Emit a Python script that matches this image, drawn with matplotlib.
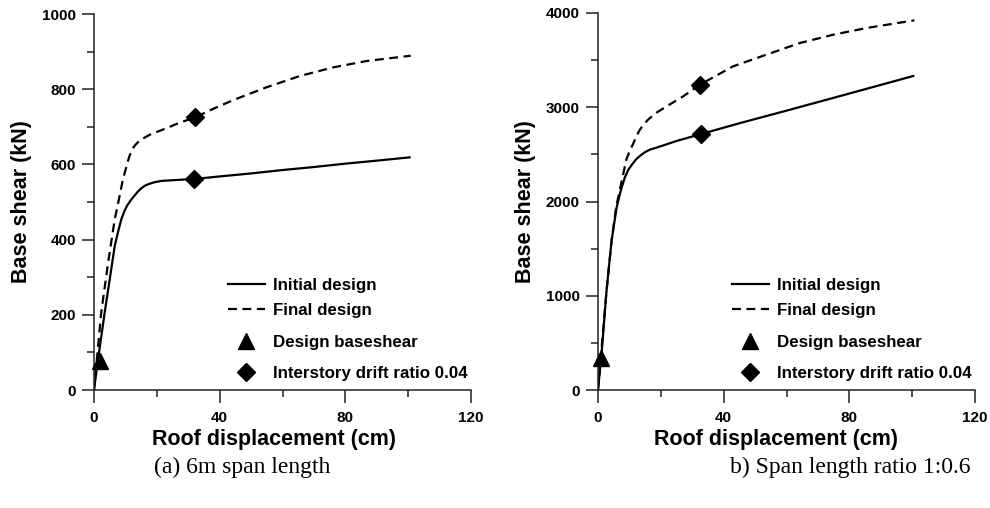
import matplotlib
matplotlib.use("Agg")
import matplotlib.pyplot as plt
from matplotlib.lines import Line2D
from matplotlib.ticker import MultipleLocator

plt.rcParams['font.family'] = ['Liberation Sans', 'DejaVu Sans']

# ---- data ----
# (a) 6m span length
a_init_x = [0, 1.3, 3.4, 5.0, 6.6, 7.7, 8.7, 9.6, 10.5, 11.9, 13.0, 14.0, 15.0, 16.1, 17.5, 19.0, 21.4, 25, 31.7, 40, 50, 60, 70, 80, 90, 100.8]
a_init_y = [0, 82, 206, 294, 383, 422, 454, 474, 490, 507, 518, 528, 536, 543, 548, 552, 556, 558, 561, 568, 576, 585, 593, 602, 610, 619]
a_final_x = [0, 2.3, 4.5, 6.6, 8.0, 9.2, 10.5, 11.2, 11.9, 12.7, 13.5, 14.5, 15.6, 18, 23, 27, 32.1, 38, 44.3, 54.9, 65.5, 76.1, 86.8, 100.8]
a_final_y = [0, 206, 339, 454, 510, 560, 600, 620, 635, 647, 655, 663, 669, 680, 696, 710, 725, 748, 771, 805, 835, 858, 875, 889]
a_base_x, a_base_y = [1.8], [77]
a_drift_x = [31.7, 32.1]
a_drift_y = [561, 725]

# (b) span length ratio 1:0.6
b_init_x = [0, 1.1, 2.7, 4.3, 5.9, 7.2, 8.5, 9.7, 11, 12.2, 13.3, 14.8, 16.5, 18.6, 25, 32.7, 45, 60, 75, 90, 100.7]
b_init_y = [0, 372, 1046, 1578, 1932, 2110, 2252, 2340, 2400, 2450, 2482, 2520, 2550, 2571, 2642, 2715, 2830, 2964, 3100, 3237, 3335]
b_final_x = [0, 2.7, 4.3, 5.8, 8.0, 9.0, 10.0, 11.1, 12.2, 13.3, 14.6, 16, 18.5, 21.8, 27.1, 32.4, 43, 53.6, 64.2, 74.9, 85.5, 100.7]
b_final_y = [0, 1046, 1578, 1947, 2287, 2442, 2530, 2606, 2690, 2760, 2820, 2870, 2940, 3009, 3115, 3239, 3434, 3558, 3681, 3770, 3841, 3922]
b_base_x, b_base_y = [1.1], [335]
b_drift_x = [32.7, 32.4]
b_drift_y = [2715, 3239]

line_labels = ["Initial design", "Final design"]
marker_labels = ["Design baseshear", "Interstory drift ratio 0.04"]
x_label = "Roof displacement (cm)"
y_label = "Base shear (kN)"
captions = ["(a) 6m span length", "b) Span length ratio 1:0.6"]

W, H = 990, 508
fig = plt.figure(figsize=(W / 100, H / 100), dpi=100)

def px_rect(x0, x1, ytop, ybot):
    return [x0 / W, 1 - ybot / H, (x1 - x0) / W, (ybot - ytop) / H]

panels = [
    dict(rect=px_rect(94, 471, 14, 390), ix=a_init_x, iy=a_init_y, fx=a_final_x, fy=a_final_y,
         bx=a_base_x, by=a_base_y, dx=a_drift_x, dy=a_drift_y, ymax=1000, ymaj=200, ymin=100,
         ylab_x=22, xlab_x=274, cap_x=242),
    dict(rect=px_rect(598, 975, 13, 390), ix=b_init_x, iy=b_init_y, fx=b_final_x, fy=b_final_y,
         bx=b_base_x, by=b_base_y, dx=b_drift_x, dy=b_drift_y, ymax=4000, ymaj=1000, ymin=500,
         ylab_x=525, xlab_x=776, cap_x=850),
]

dash = (4, 2.5)
leg_prop = {'family': 'Liberation Sans', 'weight': 'bold', 'size': 12.2}
for i, p in enumerate(panels):
    ax = fig.add_axes(p['rect'])
    ax.plot(p['ix'], p['iy'], color='black', lw=1.6, solid_capstyle='butt', solid_joinstyle='round')
    ax.plot(p['fx'], p['fy'], color='black', lw=1.6, dashes=dash)
    ax.plot(p['bx'], p['by'], linestyle='none', marker='^', ms=11, color='black', clip_on=False, zorder=5)
    ax.plot(p['dx'], p['dy'], linestyle='none', marker='D', ms=9, color='black', zorder=5)

    ax.set_xlim(0, 120)
    ax.set_ylim(0, p['ymax'])
    ax.xaxis.set_major_locator(MultipleLocator(40))
    ax.xaxis.set_minor_locator(MultipleLocator(20))
    ax.yaxis.set_major_locator(MultipleLocator(p['ymaj']))
    ax.yaxis.set_minor_locator(MultipleLocator(p['ymin']))
    for s in ['top', 'right']:
        ax.spines[s].set_visible(False)
    for s in ['left', 'bottom']:
        ax.spines[s].set_linewidth(1.1)
        ax.spines[s].set_color('#222222')
    ax.tick_params(which='major', direction='out', length=9, width=1.1, color='#222222',
                   labelsize=11, pad=4)
    ax.tick_params(which='minor', direction='out', length=5, width=1.1, color='#222222')
    ax.tick_params(axis='x', which='major', pad=6)
    for lab in ax.get_xticklabels() + ax.get_yticklabels():
        lab.set_fontweight('bold')

    line_handles = [
        Line2D([], [], color='black', lw=1.6),
        Line2D([], [], color='black', lw=1.6, dashes=dash),
    ]
    marker_handles = [
        Line2D([], [], linestyle='none', marker='^', ms=11, color='black'),
        Line2D([], [], linestyle='none', marker='D', ms=9, color='black'),
    ]
    leg1 = ax.legend(line_handles, line_labels, loc='lower left', bbox_to_anchor=(0.355, 0.1915),
                     frameon=False, borderpad=0, borderaxespad=0, handlelength=2.2,
                     handletextpad=0.45, labelspacing=0.6, prop=leg_prop)
    ax.add_artist(leg1)
    ax.legend(marker_handles, marker_labels, loc='lower left', bbox_to_anchor=(0.355, 0.024),
              frameon=False, borderpad=0, borderaxespad=0, handlelength=2.2,
              handletextpad=0.45, labelspacing=0.94, prop=leg_prop)

    fig.text(p['ylab_x'] / W, 1 - 202 / H, y_label, rotation=90, ha='center', va='center',
             fontsize=15.5, fontweight='bold')
    fig.text(p['xlab_x'] / W, 1 - 439 / H, x_label, ha='center', va='center',
             fontsize=15.5, fontweight='bold')
    fig.text(p['cap_x'] / W, 1 - 467 / H, captions[i], ha='center', va='center',
             fontsize=17, family=['Liberation Serif', 'DejaVu Serif'])

fig.savefig("out.png", dpi=100)
